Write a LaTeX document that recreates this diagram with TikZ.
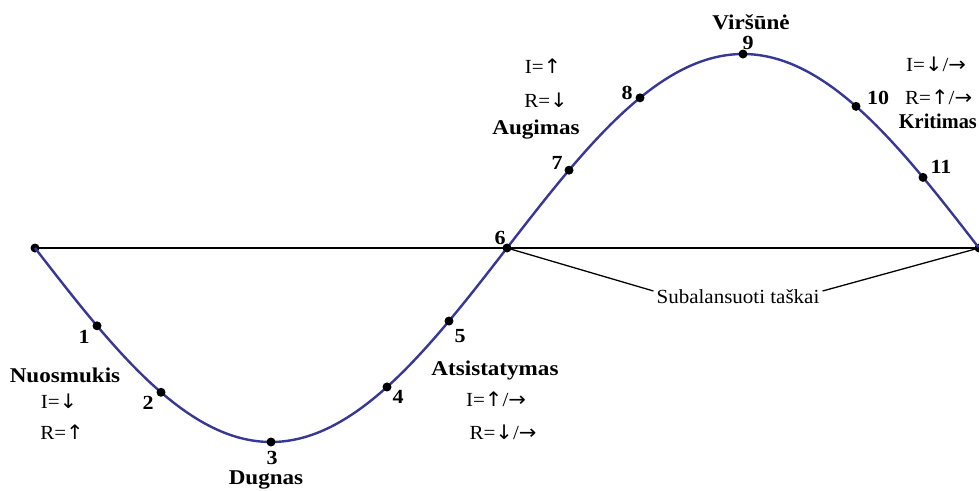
\documentclass[tikz,border=0pt]{standalone}
\usepackage{fontspec}
\setmainfont{Liberation Serif}
\newfontfamily\arrowfont{DejaVu Sans}
\newcommand{\ua}{{\arrowfont ↑}}
\newcommand{\da}{{\arrowfont ↓}}
\newcommand{\ra}{{\arrowfont →}}
\begin{document}
\begin{tikzpicture}[x=1pt,y=-1pt,
  curve/.style={draw={rgb,255:red,55;green,55;blue,150},line width=2.4pt},
  axisline/.style={draw=black,line width=2pt},
  leader/.style={draw=black,line width=1.3pt},
  dot/.style={circle,fill=black,inner sep=0pt,minimum size=9pt},
  num/.style={font=\fontsize{20}{22}\selectfont\bfseries,inner sep=0pt,xscale=1.1},
  phase/.style={font=\fontsize{21}{24}\selectfont\bfseries,inner sep=0pt,xscale=1.1},
  rule/.style={font=\fontsize{20}{24}\selectfont,inner sep=0pt,xscale=1.05}]
\useasboundingbox (0,0) rectangle (979,490);
\fill[white] (0,0) rectangle (979,490);
% axis
\node[dot] (p0) at (35,248) {};
\node[dot] (p12) at (979,248) {};
\draw[axisline] (p0.center) -- (p12.center);
% curve
\draw[curve] plot[domain=35:979,samples=240] (\x,{248+194*sin(0.381356*(\x-35))});
% points on curve
\foreach \i/\xx in {1/97,2/161,3/271,4/387,5/449,6/507,7/569,8/640,9/743,10/856,11/923}
  \node[dot] (p\i) at (\xx,{248+194*sin(0.381356*(\xx-35))}) {};
% point numbers
\node[num] (n1) at (84,337) {1};
\node[num] (n2) at (148,403) {2};
\node[num] (n3) at (272,458) {3};
\node[num] (n4) at (398,397) {4};
\node[num] (n5) at (460,336) {5};
\node[num] (n6) at (500,238) {6};
\node[num] (n7) at (557,163) {7};
\node[num] (n8) at (627,93) {8};
\node[num] (n9) at (748,43) {9};
\node[num] (n10) at (878,98) {10};
\node[num] (n11) at (941,167) {11};
% phases
\node[phase] (nuos) at (65,375) {Nuosmukis};
\node[rule] (nuosI) at (59,401) {I=\da};
\node[rule] (nuosR) at (62,432) {R=\ua};
\node[phase] (dug) at (266,480) {Dugnas};
\node[phase] (ats) at (495,370) {Atsistatymas};
\node[rule] (atsI) at (496,399) {I=\ua/\ra};
\node[rule] (atsR) at (503,432) {R=\da/\ra};
\node[rule] (augI) at (543,66) {I=\ua};
\node[rule] (augR) at (546,100) {R=\da};
\node[phase] (aug) at (536,130) {Augimas};
\node[phase] (vir) at (751,22) {Viršūnė};
\node[rule,anchor=west] (kriI) at (906,64) {I=\da/\ra};
\node[rule,anchor=west] (kriR) at (905,97) {R=\ua/\ra};
\node[phase,anchor=east,xscale=0.88] (kri) at (977,121) {Kritimas};
% balanced points
\node[rule] (sub) at (738,297) {Subalansuoti taškai};
\draw[leader] (p6.center) -- ([xshift=-3pt,yshift=6pt]sub.west);
\draw[leader] ([xshift=3pt,yshift=6pt]sub.east) -- (p12.center);
\end{tikzpicture}
\end{document}
